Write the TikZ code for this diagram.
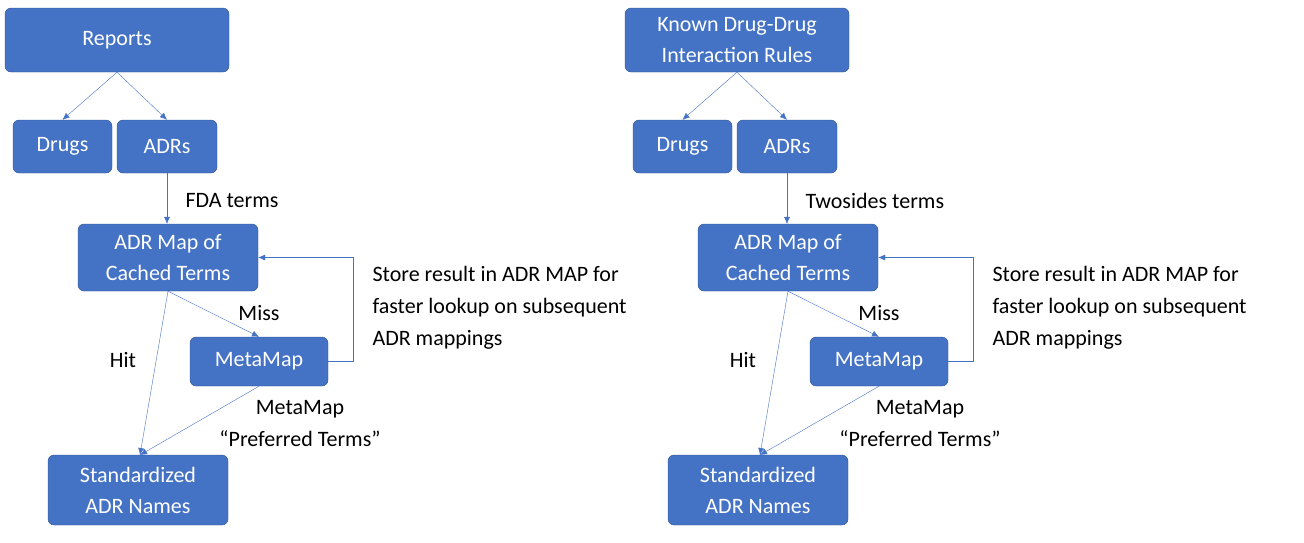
\documentclass[tikz,border=0pt]{standalone}
\usepackage{fontspec}
\setmainfont{Carlito}
\usetikzlibrary{arrows.meta}
\definecolor{boxblue}{HTML}{4472C4}
\definecolor{boxedge}{HTML}{2F528F}
\tikzset{
  box/.style={draw=boxedge, fill=boxblue, rounded corners=6pt, text=white, align=center,
    font=\fontsize{22}{31}\selectfont, inner sep=0pt},
  link/.style={draw=boxblue, -{Latex[length=7pt,width=6pt]}},
  lbl/.style={font=\fontsize{22}{32}\selectfont, align=left}
}
\begin{document}
\begin{tikzpicture}[x=1pt,y=-1pt]
\useasboundingbox (0,0) rectangle (1304,542);
% two identical pipelines, shifted by \s
\foreach \s/\n/\src/\term in {0/l/Reports/FDA terms, 620/r/{Known Drug-Drug\\Interaction Rules}/Twosides terms}
{
  \begin{scope}[xshift=\s]
  % boxes
  \node[box, minimum width=224, minimum height=64] (top\n) at (117,40) {\src};
  \node[box, minimum width=99, minimum height=53] (drugs\n) at (62.5,146.5) {Drugs};
  \node[box, minimum width=100, minimum height=53] (adrs\n) at (167,146.5) {ADRs};
  \node[box, minimum width=180, minimum height=67] (map\n) at (168,257.5) {ADR Map of\\Cached Terms};
  \node[box, minimum width=138, minimum height=49] (meta\n) at (259,361.5) {MetaMap};
  \node[box, minimum width=180, minimum height=70] (std\n) at (138,490) {Standardized\\ADR Names};
  \coordinate (ca\n) at (353,361.5);
  \coordinate (cb\n) at (353,257.5);
  \coordinate (hit\n) at (140,455);
  % connectors
  \draw[link] (top\n.south) -- (drugs\n.north);
  \draw[link] (top\n.south) -- (adrs\n.north);
  \draw[link] (adrs\n.south) -- (map\n.north -| adrs\n.south);
  \draw[link] (map\n.south) -- (meta\n.north);
  \draw[link] (map\n.south) -- (hit\n);
  \draw[link] (meta\n.south) -- (hit\n);
  \draw[link] (meta\n.east) -- (ca\n) -- (cb\n) -- (map\n.east);
  % labels
  \node[lbl, anchor=west] (tl\n) at (182,201) {\term};
  \node[lbl] (miss\n) at (259,313) {Miss};
  \node[lbl] (hitl\n) at (123,360) {Hit};
  \node[lbl, align=center] (pt\n) at (300,424) {MetaMap\\``Preferred Terms''};
  \node[lbl, anchor=west] (store\n) at (369,308) {Store result in ADR MAP for\\faster lookup on subsequent\\ADR mappings};
  \end{scope}
}
\end{tikzpicture}
\end{document}
